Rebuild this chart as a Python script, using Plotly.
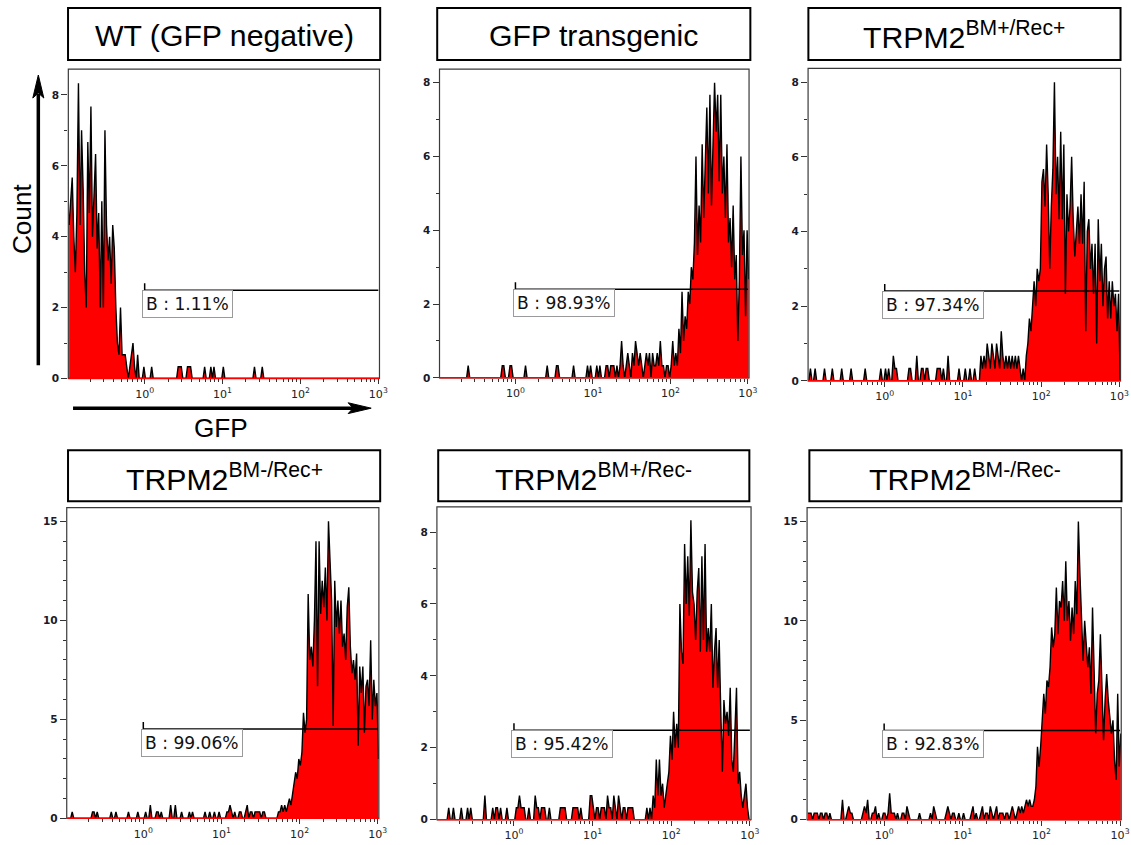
import numpy as np
import plotly.graph_objects as go

W, H = 1131, 845

# ---------------- data ----------------
# 200 log-spaced cytometer channels covering the visible GFP axis
N_CH = 200
LOG_MIN, LOG_MAX = -0.98, 3.02
channels = 10 ** (LOG_MIN + (LOG_MAX - LOG_MIN) * (np.arange(N_CH) + 0.5) / N_CH)

titles = ["WT (GFP negative)", "GFP transgenic", "TRPM2<sup>BM+/Rec+</sup>",
          "TRPM2<sup>BM-/Rec+</sup>", "TRPM2<sup>BM+/Rec-</sup>", "TRPM2<sup>BM-/Rec-</sup>"]
gate_labels = ["B : 1.11%", "B : 98.93%", "B : 97.34%", "B : 99.06%", "B : 95.42%", "B : 92.83%"]
gate_levels = [2.49, 2.40, 2.41, 4.51, 2.49, 4.49]
y_max = [8.73, 8.37, 8.37, 15.7, 8.7, 15.7]
y_dtick = [2, 2, 2, 5, 2, 5]
x_tick_vals = [1, 10, 100, 1000]
x_tick_text = ["10<sup>0</sup>", "10<sup>1</sup>", "10<sup>2</sup>", "10<sup>3</sup>"]

count_wt = [
    4.33, 5.0, 5.67, 4.0, 3.0, 4.67, 8.33, 4.33, 7.0, 5.33,
    3.0, 2.0, 6.67, 4.67, 7.67, 4.0, 5.33, 6.33, 3.67, 4.67,
    2.0, 5.0, 2.0, 7.0, 4.33, 3.33, 4.0, 2.67, 4.33, 3.67,
    2.0, 1.0, 0.67, 2.0, 0.67, 0.67, 0.67, 0.33, 0, 0.33,
    0.67, 1.0, 0.33, 0, 0.67, 0, 0, 0, 0.33, 0,
    0, 0, 0, 0.33, 0, 0, 0, 0, 0, 0,
    0, 0, 0, 0, 0, 0, 0, 0, 0, 0,
    0.33, 0.33, 0.33, 0, 0, 0, 0.33, 0.33, 0.33, 0,
    0, 0, 0, 0, 0, 0, 0, 0.33, 0, 0,
    0, 0.33, 0, 0.33, 0, 0, 0, 0, 0, 0.33,
    0, 0, 0, 0, 0, 0, 0, 0, 0, 0,
    0, 0, 0, 0, 0, 0, 0, 0, 0, 0.33,
    0, 0, 0, 0, 0.33, 0, 0, 0, 0, 0,
    0, 0, 0, 0, 0, 0, 0, 0, 0, 0,
    0, 0, 0, 0, 0, 0, 0, 0, 0, 0,
    0, 0, 0, 0, 0, 0, 0, 0, 0, 0,
    0, 0, 0, 0, 0, 0, 0, 0, 0, 0,
    0, 0, 0, 0, 0, 0, 0, 0, 0, 0,
    0, 0, 0, 0, 0, 0, 0, 0, 0, 0,
    0, 0, 0, 0, 0, 0, 0, 0, 0, 0,
]

count_gfp = [
    0, 0, 0, 0, 0, 0, 0, 0, 0, 0,
    0, 0, 0, 0, 0, 0, 0, 0, 0.33, 0,
    0, 0, 0, 0, 0, 0, 0, 0, 0, 0,
    0, 0, 0, 0, 0, 0, 0, 0, 0, 0,
    0.33, 0.33, 0, 0, 0, 0.33, 0.33, 0, 0, 0,
    0, 0, 0, 0, 0, 0.33, 0, 0, 0, 0,
    0, 0, 0, 0, 0, 0, 0, 0, 0, 0.33,
    0, 0, 0, 0, 0, 0.33, 0.33, 0, 0, 0,
    0, 0, 0, 0, 0, 0, 0.33, 0, 0, 0,
    0, 0, 0, 0, 0, 0.33, 0, 0.33, 0, 0,
    0, 0.33, 0, 0.33, 0, 0, 0, 0.33, 0.33, 0,
    0.33, 0.33, 0.33, 0, 0.33, 0, 0.33, 1.0, 0.33, 0,
    0.33, 0.67, 0.33, 0, 0.67, 0.33, 1.0, 0.67, 0.33, 0.67,
    0.33, 0, 0.33, 0.67, 0.33, 0.67, 0, 0.67, 0.33, 0.33,
    0.67, 0.33, 1.0, 0.33, 0.33, 0, 0.33, 0.33, 0, 0.33,
    1.0, 0.33, 0.67, 0.33, 1.33, 0.67, 2.33, 1.0, 1.67, 1.33,
    2.33, 2.0, 3.0, 2.67, 3.67, 6.0, 3.33, 4.67, 3.67, 6.33,
    4.33, 5.67, 7.33, 5.0, 7.67, 4.67, 6.33, 8.0, 6.67, 7.67,
    5.33, 7.67, 5.0, 6.0, 4.33, 6.33, 3.67, 4.33, 3.0, 4.67,
    2.67, 3.33, 1.0, 2.67, 6.0, 3.33, 4.0, 1.67, 4.0, 2.67,
]

count_bmp_recp = [
    0, 0.33, 0, 0, 0.33, 0, 0, 0, 0, 0,
    0.33, 0, 0, 0, 0, 0.33, 0, 0, 0, 0,
    0, 0.33, 0, 0, 0, 0, 0, 0.33, 0, 0,
    0, 0, 0, 0, 0, 0, 0.33, 0, 0, 0,
    0, 0, 0, 0, 0, 0, 0.33, 0, 0, 0.33,
    0, 0.33, 0, 0, 0.67, 0.33, 0.33, 0, 0, 0,
    0, 0, 0, 0, 0.33, 0.33, 0, 0, 0, 0.67,
    0, 0, 0.33, 0.33, 0, 0.33, 0.33, 0, 0, 0,
    0, 0, 0.33, 0.33, 0.33, 0, 0.33, 0, 0, 0.67,
    0, 0, 0, 0, 0, 0, 0.33, 0, 0, 0,
    0.33, 0, 0, 0.33, 0, 0, 0.33, 0, 0, 0,
    0.67, 0.33, 0.67, 0.33, 1.0, 0.67, 0.33, 1.0, 0.67, 0.33,
    1.0, 0.67, 0.33, 1.33, 0.67, 0.33, 0.67, 0.33, 0.67, 0.33,
    0.67, 0.33, 0.67, 0.33, 0.67, 0.33, 0, 0.33, 0, 0.67,
    1.0, 1.67, 1.33, 2.0, 2.67, 2.0, 3.0, 2.67, 3.0, 5.33,
    5.67, 4.67, 6.33, 5.0, 3.0, 4.67, 5.67, 8.0, 5.0, 6.0,
    4.33, 6.67, 4.33, 6.33, 2.33, 5.0, 4.0, 4.67, 6.0, 4.33,
    3.33, 4.0, 4.67, 3.67, 5.0, 3.67, 5.33, 1.33, 4.0, 4.33,
    3.0, 3.67, 2.33, 3.67, 1.0, 4.33, 2.67, 3.67, 2.0, 3.0,
    3.33, 1.67, 2.67, 1.67, 2.67, 2.0, 2.33, 1.33, 2.33, 0,
]

count_bmm_recp = [
    0, 0, 0, 0.33, 0, 0, 0, 0, 0, 0,
    0, 0, 0, 0, 0, 0, 0.33, 0.33, 0, 0.33,
    0, 0, 0, 0, 0, 0, 0, 0, 0.33, 0,
    0, 0.33, 0, 0, 0, 0, 0, 0, 0, 0.33,
    0, 0, 0, 0, 0, 0.33, 0, 0, 0, 0,
    0.33, 0, 0, 0.67, 0, 0, 0, 0.33, 0.33, 0,
    0.33, 0, 0, 0, 0, 0, 0.67, 0, 0, 0.67,
    0, 0, 0, 0.33, 0, 0, 0, 0, 0.33, 0,
    0.33, 0, 0, 0, 0, 0, 0, 0, 0.33, 0,
    0, 0.33, 0, 0, 0.33, 0, 0, 0.33, 0, 0,
    0, 0, 0.33, 0.33, 0.67, 0.33, 0, 0.33, 0, 0,
    0.33, 0.33, 0, 0, 0.33, 0.67, 0, 0.33, 0.33, 0,
    0.33, 0.33, 0.33, 0.33, 0, 0.33, 0.33, 0, 0, 0,
    0, 0, 0, 0, 0, 0.33, 0.33, 0.67, 0.33, 0.67,
    0.33, 0.67, 1.0, 0.67, 1.33, 1.67, 2.33, 2.0, 3.0, 2.67,
    3.33, 5.33, 4.33, 5.0, 11.33, 8.0, 8.67, 7.67, 10.0, 14.0,
    6.67, 14.0, 10.33, 12.0, 10.67, 12.67, 10.0, 15.0, 13.0, 11.0,
    4.67, 12.0, 9.67, 11.0, 9.33, 11.0, 8.67, 9.33, 8.0, 10.67,
    11.67, 8.67, 7.33, 8.0, 7.0, 8.33, 3.67, 7.67, 6.33, 7.67,
    4.33, 6.67, 7.0, 5.67, 9.0, 5.0, 7.0, 5.67, 6.33, 3.0,
]

count_bmp_recm = [
    0, 0, 0, 0, 0, 0, 0, 0.33, 0, 0,
    0.33, 0, 0, 0, 0, 0.33, 0, 0, 0, 0.33,
    0, 0.33, 0, 0, 0, 0, 0, 0, 0, 0,
    0.67, 0, 0, 0, 0, 0.33, 0, 0.33, 0.33, 0,
    0.33, 0, 0, 0, 0.33, 0, 0, 0, 0, 0,
    0.33, 0.33, 0.67, 0.33, 0.33, 0.33, 0, 0, 0.33, 0,
    0, 0, 0.67, 0.33, 0.33, 0, 0.33, 0.33, 0.33, 0,
    0, 0.33, 0, 0, 0, 0, 0, 0, 0.33, 0.33,
    0.33, 0.33, 0, 0, 0, 0, 0.33, 0.33, 0.33, 0.33,
    0, 0.33, 0, 0, 0, 0, 0, 0.67, 0.67, 0.33,
    0, 0.33, 0.33, 0, 0.33, 0.33, 0.33, 0, 0.67, 0.33,
    0.33, 0, 0.67, 0.33, 0, 0.67, 0.33, 0, 0.33, 0.33,
    0, 0.33, 0.33, 0.33, 0.33, 0, 0, 0, 0, 0,
    0, 0, 0, 0.33, 0, 0.33, 0, 0.67, 0.33, 1.67,
    0.67, 1.67, 0.67, 1.0, 0.33, 0.67, 1.0, 1.33, 2.33, 1.67,
    3.0, 2.0, 2.67, 2.0, 6.0, 4.67, 4.33, 7.67, 6.0, 7.33,
    5.67, 8.33, 6.33, 6.0, 5.0, 6.33, 7.0, 4.67, 7.33, 5.0,
    7.67, 4.67, 5.33, 4.67, 6.0, 3.67, 4.67, 5.33, 3.67, 5.0,
    3.0, 1.33, 3.33, 2.67, 3.0, 2.33, 3.67, 1.67, 1.33, 2.67,
    3.67, 1.0, 1.33, 0.67, 0.33, 0.67, 1.0, 0.33, 0, 0,
]

count_bmm_recm = [
    0.33, 0.33, 0.33, 0, 0.33, 0.33, 0.33, 0, 0.33, 0.33,
    0, 0.33, 0.33, 0, 0.33, 0, 0, 0, 0, 0,
    0, 0, 1.0, 0, 0, 0.33, 0.67, 0.33, 0.33, 0,
    0, 0, 0, 0, 0, 0.33, 0.67, 0.33, 1.0, 0,
    0, 0.33, 0.33, 0.67, 0, 0.33, 0, 0, 0.33, 0.33,
    0, 0.33, 1.33, 0.33, 0.33, 0.33, 0, 0.33, 0, 0,
    0.33, 0.33, 0, 0.67, 0.33, 0, 0, 0, 0, 0,
    0, 0.33, 0, 0, 0, 0, 0, 0, 0.33, 0,
    0.67, 0.33, 0, 0, 0, 0, 0, 0, 0.33, 0.67,
    0.33, 0, 0.33, 0.33, 0, 0, 0.33, 0, 0, 0.33,
    0, 0, 0, 0, 0.33, 0.67, 0, 0.33, 0, 0,
    0.33, 0.67, 0, 0.33, 0.33, 0, 0.67, 0.33, 0, 0.33,
    0.67, 0, 0.33, 0.33, 0.33, 0, 0.33, 0.33, 0, 0.33,
    0.67, 0.33, 0, 0.33, 0.67, 0.33, 0.67, 0.33, 0.67, 1.0,
    0.67, 1.0, 0.67, 0.67, 1.0, 1.67, 3.67, 2.67, 3.67, 5.0,
    6.33, 5.33, 7.0, 6.67, 7.67, 9.67, 8.67, 9.33, 11.67, 9.33,
    11.0, 10.67, 12.0, 10.0, 13.0, 10.0, 11.0, 9.0, 10.67, 9.33,
    12.0, 10.33, 15.0, 12.33, 10.0, 8.0, 10.0, 8.67, 7.67, 8.67,
    6.33, 10.67, 7.67, 4.33, 6.33, 7.0, 9.33, 6.0, 4.0, 6.0,
    7.33, 6.0, 5.0, 4.33, 5.0, 3.0, 2.0, 6.33, 2.67, 4.33,
]

counts = [count_wt, count_gfp, count_bmp_recp, count_bmm_recp, count_bmp_recm, count_bmm_recm]
for c in counts:
    assert len(c) == N_CH, len(c)

# ---------------- layout geometry (pixels as seen in the picture) ----------------
# the captured page comes out slightly shrunk, so pixel positions are pre-scaled
S = 1.0076

plot_boxes = [  # x0, x1, ytop, ybottom
    (68.3, 379.3, 69.0, 378.3),
    (439.3, 748.7, 69.0, 377.7),
    (807.7, 1120.0, 68.3, 380.7),
    (66.7, 378.7, 507.3, 818.0),
    (436.7, 750.7, 506.7, 819.3),
    (806.7, 1120.7, 507.3, 819.3),
]
title_boxes = [
    (68, 380, 8, 60), (437, 750, 8, 60), (808, 1120, 8, 60),
    (68, 380, 450, 501), (438, 749, 450, 501), (809, 1121, 450, 501),
]
X_RANGE = [-0.98, 3.015]


def fx(p):
    return p * S / W


def fy(p):
    return 1 - p * S / H


def fs(size):
    return size * S


minor_x = [m * 10.0 ** e for e in range(-1, 3) for m in range(2, 10)]

fig = go.Figure()
shapes = []
annotations = []
layout_axes = {}

for k in range(6):
    n = k + 1
    xr = "x" if n == 1 else f"x{n}"
    yr = "y" if n == 1 else f"y{n}"
    x0, x1, yt, yb = plot_boxes[k]
    ymax = y_max[k]
    g = gate_levels[k]

    fig.add_trace(go.Scatter(
        x=channels, y=counts[k], mode="lines", xaxis=xr, yaxis=yr,
        line=dict(color="black", width=1.4), fill="tozeroy", fillcolor="#ff0000",
        hoverinfo="skip", showlegend=False))
    # gate
    fig.add_trace(go.Scatter(
        x=[1, 1000], y=[g, g], mode="lines", xaxis=xr, yaxis=yr,
        line=dict(color="black", width=1.5), hoverinfo="skip", showlegend=False))
    d = 7.0 * ymax / (yb - yt)
    fig.add_trace(go.Scatter(
        x=[1, 1], y=[g - d, g + d], mode="lines", xaxis=xr, yaxis=yr,
        line=dict(color="black", width=1.5), hoverinfo="skip", showlegend=False))

    layout_axes["xaxis" if n == 1 else f"xaxis{n}"] = dict(
        type="log", domain=[fx(x0), fx(x1)], range=X_RANGE, anchor=yr,
        tickvals=x_tick_vals, ticktext=x_tick_text, ticks="outside", ticklen=5,
        tickwidth=1, tickcolor="#333", showgrid=False, zeroline=False, showline=False,
        tickfont=dict(family="DejaVu Sans", size=fs(11), color="#222"),
        minor=dict(tickvals=minor_x, ticks="outside", ticklen=3, tickwidth=1,
                   tickcolor="#333", showgrid=False),
        fixedrange=True)
    layout_axes["yaxis" if n == 1 else f"yaxis{n}"] = dict(
        domain=[fy(yb), fy(yt)], range=[0, ymax], anchor=xr, tick0=0, dtick=y_dtick[k],
        ticks="outside", ticklen=6, tickwidth=1, tickcolor="#333",
        showgrid=False, zeroline=False, showline=False,
        tickfont=dict(family="DejaVu Sans", size=fs(10.5), color="#1a1a2a", weight="bold"),
        minor=dict(dtick=1, ticks="outside", ticklen=3, tickwidth=1, tickcolor="#333",
                   showgrid=False),
        fixedrange=True)

    # frame and red baseline
    shapes.append(dict(type="rect", xref=f"{xr} domain", yref=f"{yr} domain",
                       x0=0, x1=1, y0=0, y1=1, line=dict(color="#3a3a3a", width=1.2),
                       layer="above"))
    shapes.append(dict(type="line", xref=f"{xr} domain", yref=f"{yr} domain",
                       x0=0, x1=1, y0=0, y1=0, line=dict(color="#ff0000", width=1.5),
                       layer="above"))

    # gate label
    annotations.append(dict(
        x=0, y=g, xref=xr, yref=yr, xanchor="left", yanchor="top", xshift=-2.5, yshift=0,
        text=gate_labels[k], showarrow=False,
        font=dict(family="DejaVu Sans", size=fs(17), color="#111"),
        bordercolor="#9a9a9a", borderwidth=1, borderpad=3, bgcolor="white"))

    # title box
    tx0, tx1, ty0, ty1 = title_boxes[k]
    shapes.append(dict(type="rect", xref="paper", yref="paper",
                       x0=fx(tx0), x1=fx(tx1), y0=fy(ty1), y1=fy(ty0),
                       line=dict(color="black", width=2)))
    annotations.append(dict(
        x=fx((tx0 + tx1) / 2), y=fy((ty0 + ty1) / 2 + 1), xref="paper", yref="paper",
        xanchor="center", yanchor="middle", text=titles[k], showarrow=False,
        font=dict(family="Liberation Sans", size=fs(30), color="black")))

# axis arrows on first panel (Count / GFP)
shapes.append(dict(type="line", xref="paper", yref="paper",
                   x0=fx(38.3), x1=fx(38.3), y0=fy(365), y1=fy(94),
                   line=dict(color="black", width=3.5)))
shapes.append(dict(type="path", xref="paper", yref="paper",
                   path=(f"M{fx(38.3)},{fy(75)} L{fx(43.8)},{fy(98)} L{fx(38.3)},{fy(93)} "
                         f"L{fx(32.8)},{fy(98)} Z"),
                   fillcolor="black", line=dict(color="black", width=1)))
shapes.append(dict(type="line", xref="paper", yref="paper",
                   x0=fx(73), x1=fx(354), y0=fy(408), y1=fy(408),
                   line=dict(color="black", width=3.5)))
shapes.append(dict(type="path", xref="paper", yref="paper",
                   path=(f"M{fx(371)},{fy(408)} L{fx(348)},{fy(402.6)} L{fx(353)},{fy(408)} "
                         f"L{fx(348)},{fy(413.4)} Z"),
                   fillcolor="black", line=dict(color="black", width=1)))
annotations.append(dict(x=fx(22), y=fy(219), xref="paper", yref="paper", text="Count",
                        textangle=-90, showarrow=False, xanchor="center", yanchor="middle",
                        font=dict(family="Liberation Sans", size=fs(26), color="black")))
annotations.append(dict(x=fx(221), y=fy(428), xref="paper", yref="paper", text="GFP",
                        showarrow=False, xanchor="center", yanchor="middle",
                        font=dict(family="Liberation Sans", size=fs(26), color="black")))

fig.update_layout(
    width=W, height=H, autosize=False,
    margin=dict(l=0, r=0, t=0, b=0),
    paper_bgcolor="white", plot_bgcolor="white",
    shapes=shapes, annotations=annotations, showlegend=False,
    **layout_axes)

fig.write_html(
    "out.html",
    post_script=("document.documentElement.style.margin='0px';"
                 "document.body.style.margin='0px';"
                 "document.body.style.padding='0px';"),
    config={"displayModeBar": False})
